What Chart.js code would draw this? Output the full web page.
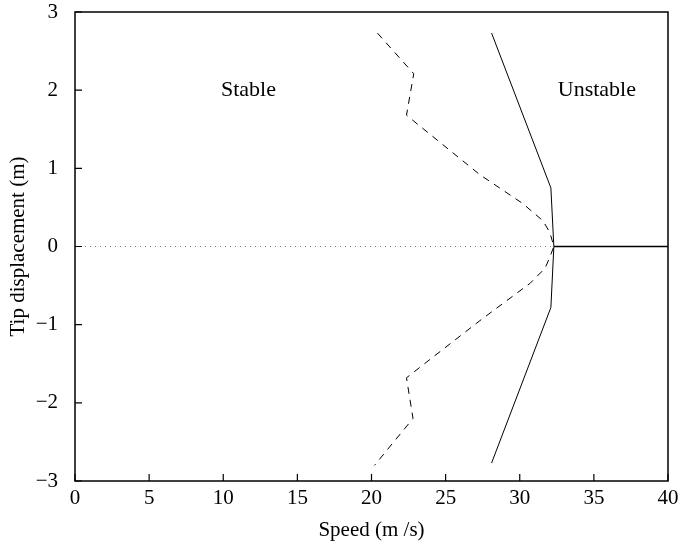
<!DOCTYPE html>
<html>
<head>
<meta charset="utf-8">
<script src="https://cdn.jsdelivr.net/npm/chart.js@4/dist/chart.umd.min.js"></script>
<style>
html,body{margin:0;padding:0;background:#fff;}
#wrap{width:682px;height:547px;}
</style>
</head>
<body>
<div id="wrap"><canvas id="c" width="682" height="547"></canvas></div>
<script>
// Solid boundary (instability boundary)
const solidX = [28.1, 32.1, 32.3, 32.1, 28.1];
const solidY = [2.73, 0.75, 0.0, -0.78, -2.77];
// Solid horizontal branch beyond instability
const branchX = [32.3, 40];
const branchY = [0, 0];
// Dashed curve
const dashX = [20.4, 22.85, 22.36, 27.3, 30.2, 31.56, 32.03, 32.3, 32.0, 31.7, 30.7, 27.3, 23.3, 22.36, 22.8, 20.2];
const dashY = [2.73, 2.21, 1.68, 0.92, 0.55, 0.33, 0.18, 0.0, -0.15, -0.28, -0.47, -0.95, -1.54, -1.68, -2.2, -2.8];
// Dotted zero line
const dotX = [0, 32.3];
const dotY = [0, 0];
// Region labels
const regionLabels = ['Stable', 'Unstable'];
const regionX = [11.7, 35.2];
const regionY = [2.0, 2.0];
// Axis ticks
const xTicks = [0, 5, 10, 15, 20, 25, 30, 35, 40];
const yTicks = [-3, -2, -1, 0, 1, 2, 3];

const pts = (xs, ys) => xs.map((x, i) => ({x: x, y: ys[i]}));
const FONT = "'Liberation Serif', 'DejaVu Serif', serif";

const framePlugin = {
  id: 'frame',
  afterDatasetsDraw(chart) {
    const ctx = chart.ctx, a = chart.chartArea;
    const xs = chart.scales.x, ys = chart.scales.y;
    ctx.save();
    ctx.strokeStyle = '#000';
    ctx.lineWidth = 1.5;
    ctx.strokeRect(a.left, a.top, a.right - a.left, a.bottom - a.top);
    ctx.lineWidth = 1.2;
    ctx.beginPath();
    xTicks.forEach(v => {
      const px = xs.getPixelForValue(v);
      ctx.moveTo(px, a.bottom);
      ctx.lineTo(px, a.bottom - 7);
    });
    yTicks.forEach(v => {
      const py = ys.getPixelForValue(v);
      ctx.moveTo(a.left, py);
      ctx.lineTo(a.left + 7, py);
    });
    ctx.stroke();
    ctx.fillStyle = '#000';
    ctx.font = '22px ' + FONT;
    ctx.textAlign = 'center';
    ctx.textBaseline = 'middle';
    regionLabels.forEach((t, i) => {
      ctx.fillText(t, xs.getPixelForValue(regionX[i]), ys.getPixelForValue(regionY[i]));
    });
    ctx.restore();
  }
};

new Chart(document.getElementById('c'), {
  type: 'scatter',
  data: {
    datasets: [
      {data: pts(dotX, dotY), showLine: true, borderColor: '#777', borderWidth: 1, borderDash: [1, 4], pointRadius: 0},
      {data: pts(dashX, dashY), showLine: true, borderColor: '#000', borderWidth: 1, borderDash: [7, 6], pointRadius: 0},
      {data: pts(solidX, solidY), showLine: true, borderColor: '#000', borderWidth: 1, pointRadius: 0},
      {data: pts(branchX, branchY), showLine: true, borderColor: '#000', borderWidth: 1.3, pointRadius: 0}
    ]
  },
  options: {
    responsive: false,
    animation: false,
    events: [],
    layout: {padding: {top: 12, right: 14, left: 0, bottom: 0}},
    plugins: {legend: {display: false}, tooltip: {enabled: false}},
    scales: {
      x: {
        type: 'linear', min: 0, max: 40,
        afterBuildTicks: s => { s.ticks = xTicks.map(v => ({value: v})); },
        afterFit: s => { s.height = 66; s.paddingLeft = 0; s.paddingRight = 0; },
        grid: {display: false, drawTicks: false},
        border: {display: false},
        ticks: {color: '#000', font: {family: FONT, size: 21}, padding: 5, maxRotation: 0},
        title: {display: true, text: 'Speed (m /s)', color: '#000', font: {family: FONT, size: 21}, padding: {top: 2, bottom: 4}}
      },
      y: {
        type: 'linear', min: -3, max: 3,
        afterBuildTicks: s => { s.ticks = yTicks.map(v => ({value: v})); },
        afterFit: s => { s.width = 75; s.paddingTop = 0; s.paddingBottom = 0; },
        grid: {display: false, drawTicks: false},
        border: {display: false},
        ticks: {color: '#000', font: {family: FONT, size: 21}, padding: 17,
          callback: v => (v < 0 ? '\u2212' + Math.abs(v) : String(v))},
        title: {display: true, text: 'Tip displacement (m)', color: '#000', font: {family: FONT, size: 21}, padding: {top: 6, bottom: 4}}
      }
    }
  },
  plugins: [framePlugin]
});
</script>
</body>
</html>
